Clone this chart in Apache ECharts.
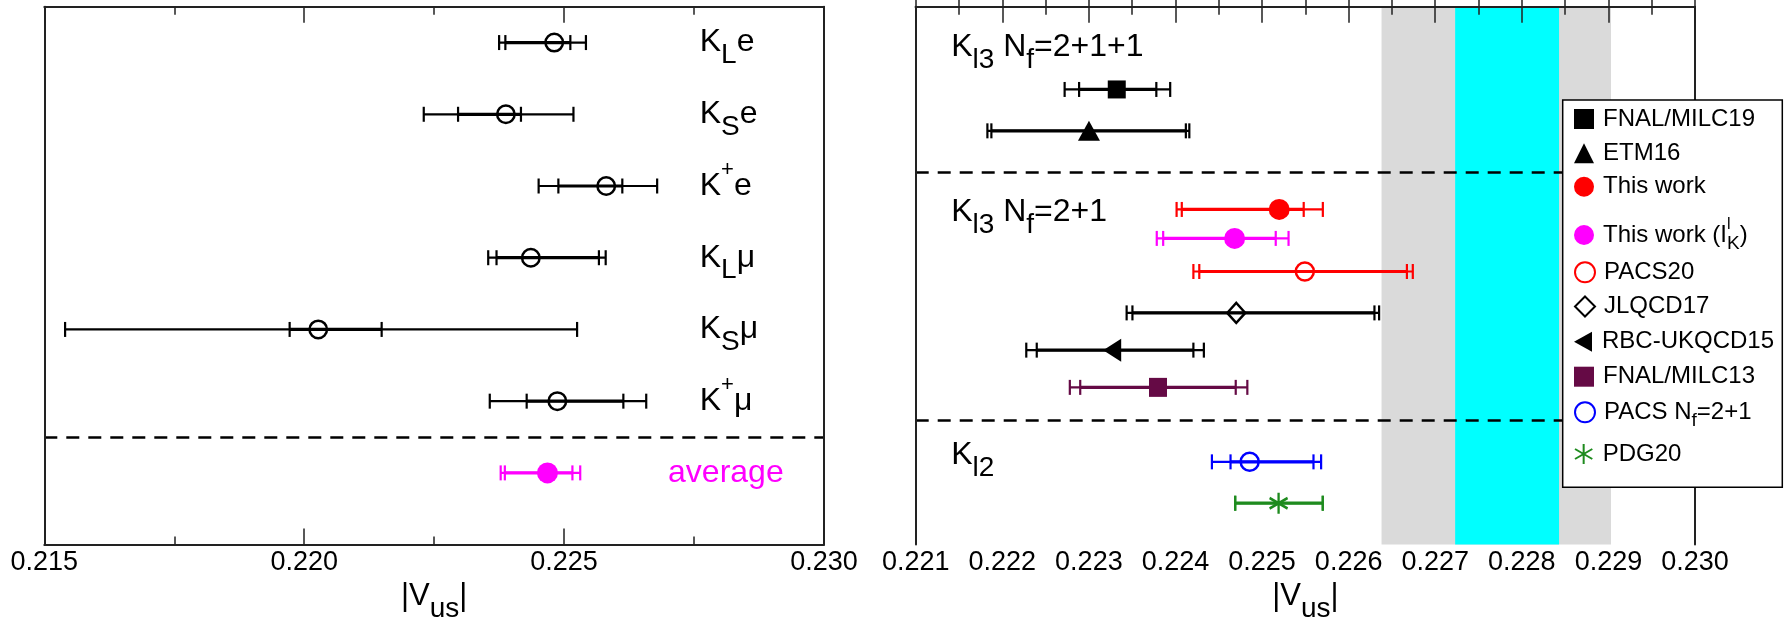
<!DOCTYPE html>
<html>
<head>
<meta charset="utf-8">
<script src="https://cdn.jsdelivr.net/npm/echarts@6/dist/echarts.min.js"></script>
<style>
  html, body { margin: 0; padding: 0; background: #fff; }
  #chart { width: 1791px; height: 628px; }
</style>
</head>
<body>
<div id="chart"></div>
<script>
// ---------- Left panel: |Vus| from the individual K_l3 channels ----------
const chanLabels = [
  '{m|K}{sb|L}{m|e}', '{m|K}{sb|S}{m|e}', '{m|K}{sp|+}{m|e}',
  '{m|K}{sb|L}{m|μ}', '{m|K}{sb|S}{m|μ}', '{m|K}{sp|+}{m|μ}'
];
const chanRow     = [1, 2, 3, 4, 5, 6];
const chanVal     = [0.22481, 0.22388, 0.22581, 0.22436, 0.22027, 0.22487];
const chanStatLo  = [0.22387, 0.22296, 0.22489, 0.22370, 0.21972, 0.22428];
const chanStatHi  = [0.22512, 0.22417, 0.22612, 0.22567, 0.22149, 0.22614];
const chanTotLo   = [0.22375, 0.22230, 0.22451, 0.22354, 0.21540, 0.22357];
const chanTotHi   = [0.22542, 0.22518, 0.22679, 0.22580, 0.22525, 0.22658];

const avgLabel = 'average';
const avgRow = 7;
const avgVal = 0.22468, avgStatLo = 0.22386, avgStatHi = 0.22516, avgTotLo = 0.22378, avgTotHi = 0.22531;
const leftSeparatorRow = 6.5;

// ---------- Right panel: comparison with other determinations ----------
const refNames   = ['FNAL/MILC19', 'ETM16', 'This work', 'This work (lK)', 'PACS20',
                    'JLQCD17', 'RBC-UKQCD15', 'FNAL/MILC13', 'PACS Nf=2+1', 'PDG20'];
const refRow     = [2, 3, 4.9, 5.6, 6.4, 7.4, 8.3, 9.2, 11, 12];
const refVal     = [0.223322, 0.223001, 0.225198, 0.224683, 0.225494, 0.224702, 0.223269, 0.223798, 0.224857, 0.225191];
const refStatLo  = [0.222887, 0.221874, 0.224073, 0.223858, 0.224275, 0.223503, 0.222398, 0.222900, 0.224636, 0.224690];
const refStatHi  = [0.223779, 0.224120, 0.225481, 0.225158, 0.226673, 0.226298, 0.224207, 0.224696, 0.225594, 0.225701];
const refTotLo   = [0.222720, 0.221828, 0.224013, 0.223784, 0.224207, 0.223436, 0.222277, 0.222780, 0.224421, 0.224690];
const refTotHi   = [0.223939, 0.224160, 0.225702, 0.225306, 0.226741, 0.226352, 0.224328, 0.224830, 0.225682, 0.225701];

const groupLabels = ['{m|K}{sb|l3}{m| N}{sb|f}{m|=2+1+1}', '{m|K}{sb|l3}{m| N}{sb|f}{m|=2+1}', '{m|K}{sb|l2}'];
const groupRow    = [0.98, 4.96, 10.83];
const rightSeparatorRows = [4, 10];

// Unitarity bands (inner and outer)
const bandOuter = [0.22638, 0.22903];
const bandInner = [0.22723, 0.22843];

// ---------- styling ----------
const FONT = '"Liberation Sans", Arial, Helvetica, sans-serif';
const NARROW = '"Liberation Sans Narrow", "Liberation Sans", Arial, sans-serif';
const AXIS_COLOR = '#222';
const LEFT_TRIANGLE = 'path://M0,10L18,0L18,20Z';
const ASTERISK = 'path://M10,0L10,20M1.34,5L18.66,15M1.34,15L18.66,5';

const refStyle = [
  { symbol: 'rect',        size: [18, 18], fill: '#000000', stroke: null,      err: '#000000' },
  { symbol: 'triangle',    size: [22, 20], fill: '#000000', stroke: null,      err: '#000000' },
  { symbol: 'circle',      size: 21,       fill: '#ff0000', stroke: null,      err: '#ff0000' },
  { symbol: 'circle',      size: 21,       fill: '#ff00ff', stroke: null,      err: '#ff00ff' },
  { symbol: 'circle',      size: 18,       fill: 'rgba(0,0,0,0)', stroke: '#ff0000', err: '#ff0000' },
  { symbol: 'diamond',     size: [18, 20], fill: 'rgba(0,0,0,0)', stroke: '#000000', err: '#000000' },
  { symbol: LEFT_TRIANGLE, size: [18, 23], fill: '#000000', stroke: null,      err: '#000000' },
  { symbol: 'rect',        size: [18, 19], fill: '#650a45', stroke: null,      err: '#650a45' },
  { symbol: 'circle',      size: 18,       fill: 'rgba(0,0,0,0)', stroke: '#0000ff', err: '#0000ff' },
  { symbol: ASTERISK,      size: [18, 21], fill: 'rgba(0,0,0,0)', stroke: '#1e8b1e', err: '#1e8b1e' }
];

const labelRich = {
  m:  { fontSize: 32, lineHeight: 54, verticalAlign: 'middle', fontFamily: FONT },
  sb: { fontSize: 28, lineHeight: 28, verticalAlign: 'bottom', fontFamily: NARROW },
  sp: { fontSize: 22, lineHeight: 34, verticalAlign: 'top', fontFamily: FONT }
};
function richWithColor(color) {
  const out = {};
  Object.keys(labelRich).forEach(function (k) { out[k] = Object.assign({}, labelRich[k], { color: color, opacity: 1 }); });
  return out;
}

// Error bar: thin total-error line, thicker statistical line, caps at each end
function errorBarRenderer(color) {
  return function (params, api) {
    const y = api.value(0);
    const statLo = api.coord([api.value(2), y]);
    const statHi = api.coord([api.value(3), y]);
    const totLo = api.coord([api.value(4), y]);
    const totHi = api.coord([api.value(5), y]);
    const yy = totLo[1];
    const half = 7.5;
    const children = [
      { type: 'line', shape: { x1: totLo[0], y1: yy, x2: totHi[0], y2: yy }, style: { stroke: color, lineWidth: 2.2 } },
      { type: 'line', shape: { x1: statLo[0], y1: yy, x2: statHi[0], y2: yy }, style: { stroke: color, lineWidth: 3.2 } }
    ];
    [totLo, totHi, statLo, statHi].forEach(function (p) {
      children.push({ type: 'line', shape: { x1: p[0], y1: yy - half, x2: p[0], y2: yy + half },
                      style: { stroke: color, lineWidth: 2.2 } });
    });
    return { type: 'group', children: children };
  };
}

function xAxisPair(gridIndex, min, max, interval) {
  const common = {
    gridIndex: gridIndex, type: 'value', min: min, max: max, interval: interval, z: 6,
    axisLine: { lineStyle: { color: AXIS_COLOR, width: 2 } },
    axisTick: { inside: true, length: 16, lineStyle: { color: AXIS_COLOR, width: 1.5 } },
    minorTick: { show: true, splitNumber: 2, length: 8, lineStyle: { color: AXIS_COLOR, width: 1.5 } },
    splitLine: { show: false }, minorSplitLine: { show: false }
  };
  return [
    Object.assign({}, common, {
      position: 'bottom',
      axisLabel: { fontSize: 27, lineHeight: 27, color: '#000', margin: 4, fontFamily: FONT,
                   formatter: function (v) { return v.toFixed(3); } },
      name: '{m||V}{sb|us}{m||}',
      nameLocation: 'middle', nameGap: 22,
      nameTextStyle: { color: '#000', rich: {
        m:  { fontSize: 31, lineHeight: 54, verticalAlign: 'middle', fontFamily: FONT, color: '#000' },
        sb: { fontSize: 28, lineHeight: 28, verticalAlign: 'bottom', fontFamily: NARROW, color: '#000' }
      } }
    }),
    Object.assign({}, common, { position: 'top', axisLabel: { show: false } })
  ];
}

function yAxisPair(gridIndex, min, max) {
  const common = {
    gridIndex: gridIndex, type: 'value', min: min, max: max, inverse: true, z: 6,
    axisLine: { show: true, lineStyle: { color: AXIS_COLOR, width: 2 } },
    axisTick: { show: false }, axisLabel: { show: false }, splitLine: { show: false }
  };
  return [Object.assign({}, common, { position: 'left' }),
          Object.assign({}, common, { position: 'right' })];
}

const series = [];

// Left panel bars and markers
series.push({
  type: 'custom', name: 'channels-err', xAxisIndex: 0, yAxisIndex: 0, z: 2,
  renderItem: errorBarRenderer('#000'),
  encode: { x: [1, 2, 3, 4, 5], y: 0 },
  data: chanRow.map(function (r, i) { return [r, chanVal[i], chanStatLo[i], chanStatHi[i], chanTotLo[i], chanTotHi[i]]; })
});
series.push({
  type: 'custom', name: 'average-err', xAxisIndex: 0, yAxisIndex: 0, z: 2,
  renderItem: errorBarRenderer('#ff00ff'),
  encode: { x: [1, 2, 3, 4, 5], y: 0 },
  data: [[avgRow, avgVal, avgStatLo, avgStatHi, avgTotLo, avgTotHi]]
});
series.push({
  type: 'scatter', name: 'channels', xAxisIndex: 0, yAxisIndex: 0, z: 3,
  symbol: 'circle', symbolSize: 17.5,
  itemStyle: { color: 'rgba(0,0,0,0)', borderColor: '#000', borderWidth: 2.5, opacity: 1 },
  data: chanRow.map(function (r, i) { return [chanVal[i], r]; })
});
series.push({
  type: 'scatter', name: 'average', xAxisIndex: 0, yAxisIndex: 0, z: 3,
  symbol: 'circle', symbolSize: 21,
  itemStyle: { color: '#ff00ff', opacity: 1 },
  data: [[avgVal, avgRow]]
});
// Channel names and the average tag
series.push({
  type: 'scatter', name: 'channel-labels', xAxisIndex: 0, yAxisIndex: 0, z: 4, symbolSize: 0, silent: true,
  itemStyle: { opacity: 1 },
  data: chanRow.map(function (r, i) { return { value: [0.22761, r], label: { formatter: chanLabels[i] } }; })
    .concat([{ value: [0.22700, avgRow],
               label: { formatter: '{m|' + avgLabel + '}', color: '#ff00ff', rich: richWithColor('#ff00ff') } }]),
  label: { show: true, position: 'inside', align: 'left', verticalAlign: 'middle', color: '#000', opacity: 1,
           rich: richWithColor('#000') },
  markLine: {
    silent: true, symbol: 'none', label: { show: false },
    lineStyle: { color: '#000', width: 2.5, type: [13, 9], opacity: 1 },
    data: [{ yAxis: leftSeparatorRow }]
  }
});

// Right panel: bands
series.push({
  type: 'scatter', name: 'bands', xAxisIndex: 2, yAxisIndex: 2, z: 1, symbolSize: 0, silent: true,
  data: [[bandOuter[0], 0]],
  markArea: {
    silent: true,
    data: [
      [{ xAxis: bandOuter[0], itemStyle: { color: '#dadada', opacity: 1 } }, { xAxis: bandOuter[1] }],
      [{ xAxis: bandInner[0], itemStyle: { color: '#00ffff', opacity: 1 } }, { xAxis: bandInner[1] }]
    ]
  }
});
// Group separators and group titles
series.push({
  type: 'scatter', name: 'group-labels', xAxisIndex: 2, yAxisIndex: 2, z: 1.5, symbolSize: 0, silent: true,
  itemStyle: { opacity: 1 },
  data: groupRow.map(function (r, i) { return { value: [0.22141, r], label: { formatter: groupLabels[i] } }; }),
  label: { show: true, position: 'inside', align: 'left', verticalAlign: 'middle', color: '#000', opacity: 1,
           rich: richWithColor('#000') },
  markLine: {
    silent: true, symbol: 'none', label: { show: false },
    lineStyle: { color: '#000', width: 2.5, type: [13, 9], opacity: 1 },
    data: rightSeparatorRows.map(function (r) { return { yAxis: r }; })
  }
});
// Determinations: error bars + markers
refNames.forEach(function (name, i) {
  const st = refStyle[i];
  series.push({
    type: 'custom', name: name + ' err', xAxisIndex: 2, yAxisIndex: 2, z: 2,
    renderItem: errorBarRenderer(st.err),
    encode: { x: [1, 2, 3, 4, 5], y: 0 },
    data: [[refRow[i], refVal[i], refStatLo[i], refStatHi[i], refTotLo[i], refTotHi[i]]]
  });
  const itemStyle = { color: st.fill, opacity: 1 };
  if (st.stroke) { itemStyle.borderColor = st.stroke; itemStyle.borderWidth = 2.5; }
  series.push({
    type: 'scatter', name: name, xAxisIndex: 2, yAxisIndex: 2, z: 3,
    symbol: st.symbol, symbolSize: st.size,
    itemStyle: itemStyle,
    data: [[refVal[i], refRow[i]]]
  });
});

// Legend entries, one component per row
const legendCenters = [125, 159.3, 192.7, 235, 278.3, 312.5, 347.7, 382.7, 418.3, 460];
const legendText = {
  'This work (lK)': '{lm|This work (I}{lsp|l}{lsb|K}{lm|)}',
  'PACS Nf=2+1': '{lm|PACS N}{lsb|f}{lm|=2+1}'
};
const legendRich = {
  lm:  { fontSize: 24, lineHeight: 36, verticalAlign: 'middle', fontFamily: FONT, color: '#000' },
  lsb: { fontSize: 19, lineHeight: 18, verticalAlign: 'bottom', fontFamily: NARROW, color: '#000' },
  lsp: { fontSize: 16, lineHeight: 16, verticalAlign: 'top', fontFamily: FONT, color: '#000', width: 0 }
};
const legends = refNames.map(function (name, i) {
  return {
    data: [name], left: 1574, top: legendCenters[i] - 18, orient: 'vertical',
    itemWidth: 20, itemHeight: 20, padding: 0, itemGap: 0, z: 20, selectedMode: false,
    formatter: function (n) { return legendText[n] || ('{lm|' + n + '}'); },
    textStyle: { color: '#000', fontSize: 24, fontFamily: FONT, padding: [0, 0, 0, 4], rich: legendRich }
  };
});

const chart = echarts.init(document.getElementById('chart'), null, { renderer: 'canvas' });
chart.setOption({
  animation: false,
  backgroundColor: '#fff',
  textStyle: { fontFamily: FONT, color: '#000' },
  grid: [
    { left: 44.3, top: 6.7, width: 779.7, height: 546 },
    { left: 915.7, top: 6.7, width: 779.3, height: 546 }
  ],
  xAxis: xAxisPair(0, 0.215, 0.230, 0.005).concat(xAxisPair(1, 0.221, 0.230, 0.001)),
  yAxis: yAxisPair(0, 0.5, 8).concat(yAxisPair(1, 0, 13)),
  legend: legends,
  graphic: [{
    type: 'rect', z: 10, silent: true,
    shape: { x: 1562.7, y: 100, width: 219.6, height: 387.3 },
    style: { fill: '#fff', stroke: '#000', lineWidth: 1.5 }
  }],
  series: series
});
</script>
</body>
</html>
